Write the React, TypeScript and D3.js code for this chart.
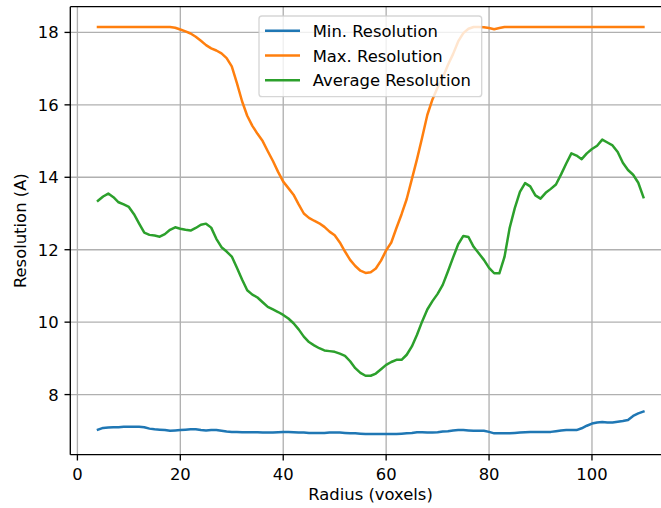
import React from "react";
import * as d3 from "d3";

const radius = [
  4, 5, 6, 7, 8, 9, 10, 11, 12, 13, 14, 15, 16, 17, 18, 19, 20, 21, 22, 23, 24, 25, 26, 27, 28, 29,
  30, 31, 32, 33, 34, 35, 36, 37, 38, 39, 40, 41, 42, 43, 44, 45, 46, 47, 48, 49, 50, 51, 52, 53, 54,
  55, 56, 57, 58, 59, 60, 61, 62, 63, 64, 65, 66, 67, 68, 69, 70, 71, 72, 73, 74, 75, 76, 77, 78, 79,
  80, 81, 82, 83, 84, 85, 86, 87, 88, 89, 90, 91, 92, 93, 94, 95, 96, 97, 98, 99, 100, 101, 102, 103,
  104, 105, 106, 107, 108, 109, 110,
];

const minRes = [
  7.03, 7.08, 7.09, 7.1, 7.1, 7.11, 7.11, 7.11, 7.11, 7.1, 7.06, 7.04, 7.03, 7.02, 7.0, 7.01, 7.02,
  7.03, 7.04, 7.04, 7.02, 7.01, 7.02, 7.02, 7.0, 6.98, 6.97, 6.97, 6.96, 6.96, 6.96, 6.96, 6.95, 6.95,
  6.95, 6.96, 6.97, 6.97, 6.96, 6.95, 6.95, 6.94, 6.94, 6.94, 6.94, 6.95, 6.95, 6.95, 6.94, 6.93,
  6.93, 6.92, 6.91, 6.91, 6.91, 6.91, 6.91, 6.91, 6.91, 6.92, 6.93, 6.94, 6.96, 6.96, 6.95, 6.95,
  6.96, 6.98, 6.99, 7.01, 7.02, 7.02, 7.01, 7.0, 7.0, 7.0, 6.97, 6.93, 6.93, 6.93, 6.93, 6.94, 6.95,
  6.96, 6.97, 6.97, 6.97, 6.97, 6.97, 6.99, 7.01, 7.02, 7.02, 7.02, 7.07, 7.14, 7.2, 7.23, 7.24,
  7.23, 7.23, 7.25, 7.27, 7.3, 7.41, 7.48, 7.53,
];

const maxRes = [
  18.15, 18.15, 18.15, 18.15, 18.15, 18.15, 18.15, 18.15, 18.15, 18.15, 18.15, 18.15, 18.15, 18.15,
  18.15, 18.13, 18.08, 18.03, 17.97, 17.88, 17.77, 17.65, 17.56, 17.5, 17.42, 17.29, 17.06, 16.6,
  16.1, 15.7, 15.42, 15.2, 15.0, 14.72, 14.45, 14.15, 13.88, 13.7, 13.52, 13.25, 13.0, 12.88, 12.8,
  12.73, 12.63, 12.5, 12.4, 12.2, 11.95, 11.72, 11.55, 11.42, 11.36, 11.38, 11.48, 11.7, 11.98, 12.2,
  12.6, 12.98, 13.4, 13.95, 14.5, 15.1, 15.72, 16.15, 16.48, 16.75, 17.1, 17.4, 17.75, 17.98, 18.1,
  18.15, 18.15, 18.14, 18.12, 18.09, 18.12, 18.15, 18.15, 18.15, 18.15, 18.15, 18.15, 18.15, 18.15,
  18.15, 18.15, 18.15, 18.15, 18.15, 18.15, 18.15, 18.15, 18.15, 18.15, 18.15, 18.15, 18.15, 18.15,
  18.15, 18.15, 18.15, 18.15, 18.15, 18.15,
];

const avgRes = [
  13.35, 13.47, 13.55, 13.45, 13.31, 13.25, 13.18, 12.98, 12.72, 12.47, 12.41, 12.39, 12.36, 12.43,
  12.55, 12.62, 12.58, 12.55, 12.53, 12.6, 12.69, 12.72, 12.61, 12.3, 12.07, 11.95, 11.81, 11.5,
  11.18, 10.88, 10.76, 10.68, 10.55, 10.42, 10.35, 10.28, 10.2, 10.1, 9.97, 9.8, 9.6, 9.45, 9.36,
  9.28, 9.22, 9.2, 9.18, 9.13, 9.07, 8.92, 8.73, 8.6, 8.52, 8.52, 8.58, 8.7, 8.82, 8.9, 8.96, 8.96,
  9.1, 9.33, 9.65, 10.02, 10.35, 10.58, 10.78, 11.03, 11.4, 11.78, 12.15, 12.38, 12.35, 12.08, 11.9,
  11.72, 11.5, 11.35, 11.35, 11.8, 12.6, 13.15, 13.6, 13.84, 13.75, 13.5, 13.41, 13.57, 13.68, 13.8,
  14.08, 14.38, 14.66, 14.6, 14.5, 14.66, 14.78, 14.87, 15.04, 14.96, 14.88, 14.7, 14.4, 14.2,
  14.07, 13.85, 13.45,
];

const xTicks = [0, 20, 40, 60, 80, 100];
const yTicks = [8, 10, 12, 14, 16, 18];

const seriesNames = ["Min. Resolution", "Max. Resolution", "Average Resolution"];
const seriesColors = ["#1f77b4", "#ff7f0e", "#2ca02c"];

const W = 661;
const H = 508;
const L = 70.3, R = 670.7, T = 6.7, B = 454.7;
const FS = 16.4;
const FONT = "DejaVu Sans, sans-serif";

export default function App() {
  const x = d3.scaleLinear().domain([-1.38, 115.3]).range([L, R]);
  const y = d3.scaleLinear().domain([6.34, 18.71]).range([B, T]);
  const allSeries = [minRes, maxRes, avgRes];
  const line = d3
    .line<number>()
    .x((_, i) => x(radius[i]))
    .y((d) => y(d));

  const tickLen = 5.8;
  const pad = 5.8;

  return (
    <svg
      width={W}
      height={H}
      style={{ position: "absolute", left: 0, top: 0, background: "#fff" }}
      fontFamily={FONT}
    >
      <defs>
        <clipPath id="plot">
          <rect x={L} y={T} width={R - L} height={B - T} />
        </clipPath>
      </defs>
      <rect x={0} y={0} width={W} height={H} fill="#fff" />
      <g stroke="#b0b0b0" strokeWidth={1.33}>
        {xTicks.map((t) => (
          <line key={"gx" + t} x1={x(t)} x2={x(t)} y1={T} y2={B} />
        ))}
        {yTicks.map((t) => (
          <line key={"gy" + t} x1={L} x2={R} y1={y(t)} y2={y(t)} />
        ))}
      </g>
      <g clipPath="url(#plot)" fill="none" strokeWidth={2.5} strokeLinejoin="round" strokeLinecap="square">
        {allSeries.map((s, i) => (
          <path key={i} d={line(s) || ""} stroke={seriesColors[i]} />
        ))}
      </g>
      <g stroke="#000" strokeWidth={1.33} fill="none">
        <line x1={L} x2={L} y1={T} y2={B} />
        <line x1={L} x2={R} y1={B} y2={B} />
        <line x1={L} x2={R} y1={T} y2={T} />
        <line x1={R} x2={R} y1={T} y2={B} />
      </g>
      <g>
        {xTicks.map((t) => (
          <g key={"xt" + t}>
            <line x1={x(t)} x2={x(t)} y1={B} y2={B + tickLen} stroke="#000" strokeWidth={1.33} />
            <text x={x(t)} y={480} textAnchor="middle" fontSize={FS} fill="#000">
              {t}
            </text>
          </g>
        ))}
      </g>
      <g>
        {yTicks.map((t) => (
          <g key={"yt" + t}>
            <line x1={L - tickLen} x2={L} y1={y(t)} y2={y(t)} stroke="#000" strokeWidth={1.33} />
            <text x={L - tickLen - pad} y={y(t) + 6} textAnchor="end" fontSize={FS} fill="#000">
              {t}
            </text>
          </g>
        ))}
      </g>
      <text x={(L + R) / 2} y={500} textAnchor="middle" fontSize={FS} fill="#000">
        Radius (voxels)
      </text>
      <text
        transform={`translate(26,${(T + B) / 2}) rotate(-90)`}
        textAnchor="middle"
        fontSize={FS}
        fill="#000"
      >
        Resolution (A)
      </text>
      <g>
        <rect
          x={259}
          y={16}
          width={222.7}
          height={80.7}
          rx={3}
          fill="#fff"
          fillOpacity={0.8}
          stroke="#cccccc"
          strokeOpacity={0.8}
          strokeWidth={1.33}
        />
        {seriesNames.map((n, i) => {
          const cy = 30.7 + i * 24.8;
          return (
            <g key={n}>
              <line x1={265} x2={300} y1={cy} y2={cy} stroke={seriesColors[i]} strokeWidth={2.5} />
              <text x={312.7} y={cy + 6} fontSize={FS} fill="#000">
                {n}
              </text>
            </g>
          );
        })}
      </g>
    </svg>
  );
}
